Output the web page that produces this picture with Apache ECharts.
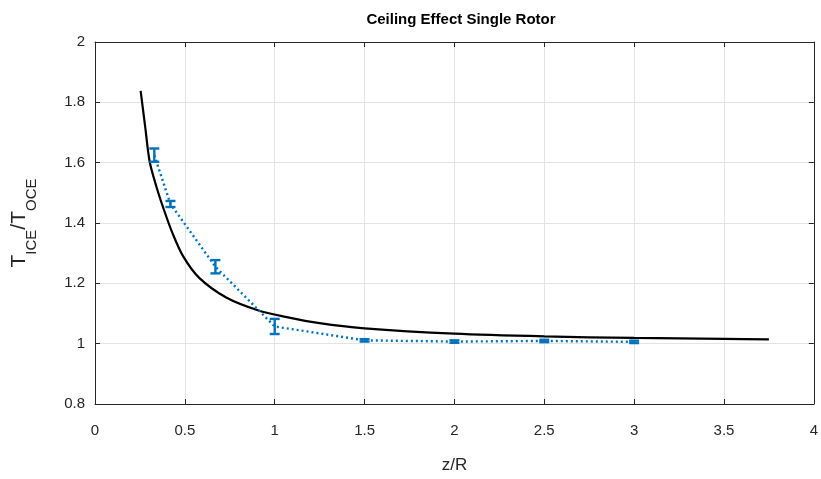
<!DOCTYPE html>
<html>
<head>
<meta charset="utf-8">
<script src="https://cdn.jsdelivr.net/npm/echarts@6/dist/echarts.min.js"></script>
<style>html,body{margin:0;padding:0;background:#fff;}#c{width:821px;height:479px;}</style>
</head>
<body>
<div id="c"></div>
<script>
// Measured data (blue, with error bars)
var measX = [0.33, 0.42, 0.67, 1.0, 1.5, 2.0, 2.5, 3.0];
var measY = [1.625, 1.463, 1.255, 1.057, 1.011, 1.007, 1.009, 1.006];
var measErr = [0.022, 0.010, 0.022, 0.025, 0.004, 0.004, 0.004, 0.004];
// Theory curve (black)
var curveX = [0.254, 0.28, 0.304, 0.341, 0.38, 0.43, 0.49, 0.58, 0.73, 0.91, 1.06, 1.25, 1.5, 2.0, 2.5, 3.0, 3.5, 3.75];
var curveY = [1.838, 1.715, 1.604, 1.522, 1.45, 1.368, 1.29, 1.218, 1.153, 1.110, 1.089, 1.068, 1.051, 1.033, 1.024, 1.019, 1.016, 1.014];
var xTicks = [0, 0.5, 1, 1.5, 2, 2.5, 3, 3.5, 4];
var yTicks = [0.8, 1, 1.2, 1.4, 1.6, 1.8, 2];

var chart = echarts.init(document.getElementById('c'));
var labelColor = '#262626';
var axisCommon = {
  axisLine: {show: true, onZero: false, lineStyle: {color: '#262626', width: 1}},
  axisTick: {show: true, inside: true, length: 5, lineStyle: {color: '#262626'}}
};
chart.setOption({
  animation: false,
  title: {
    text: 'Ceiling Effect Single Rotor',
    left: 456, top: 7, textAlign: 'center',
    textStyle: {fontFamily: 'Arial, Liberation Sans', fontSize: 15, fontWeight: 'bold', color: '#000'}
  },
  grid: {left: 95, right: 3, top: 42, bottom: 74},
  xAxis: [
    Object.assign({
      type: 'value', min: 0, max: 4, interval: 0.5, position: 'bottom',
      name: 'z/R', nameLocation: 'middle', nameGap: 53,
      nameTextStyle: {fontFamily: 'Arial, Liberation Sans', fontSize: 17, color: labelColor},
      axisLabel: {fontFamily: 'Arial, Liberation Sans', fontSize: 15, color: labelColor, margin: 19,
        formatter: function(v){ return xTicks.indexOf(v) >= 0 ? String(v) : ''; }},
      splitLine: {show: true, lineStyle: {color: '#e3e3e3', width: 1}}
    }, axisCommon),
    Object.assign({
      type: 'value', min: 0, max: 4, interval: 0.5, position: 'top',
      axisLabel: {show: false}, splitLine: {show: false}
    }, axisCommon)
  ],
  yAxis: [
    Object.assign({
      type: 'value', min: 0.8, max: 2, interval: 0.2, position: 'left',
      name: '{t|T}{sub|ICE}{t|/T}{sub|OCE}', nameLocation: 'middle', nameGap: 56,
      nameTextStyle: {fontFamily: 'Arial, Liberation Sans', fontSize: 21, color: labelColor,
        rich: {
          t: {fontFamily: 'Arial, Liberation Sans', fontSize: 21, color: labelColor, lineHeight: 30, verticalAlign: 'top'},
          sub: {fontFamily: 'Arial, Liberation Sans', fontSize: 15, color: labelColor, lineHeight: 14, verticalAlign: 'bottom'}
        }},
      axisLabel: {fontFamily: 'Arial, Liberation Sans', fontSize: 15, color: labelColor, margin: 10,
        formatter: function(v){ var r = Math.round(v*10)/10; return String(r); }},
      splitLine: {show: true, lineStyle: {color: '#e3e3e3', width: 1}}
    }, axisCommon),
    Object.assign({
      type: 'value', min: 0.8, max: 2, interval: 0.2, position: 'right',
      axisLabel: {show: false}, splitLine: {show: false}
    }, axisCommon)
  ],
  series: [
    {
      type: 'line', name: 'theory', xAxisIndex: 0, yAxisIndex: 0,
      data: curveX.map(function(x, i){ return [x, curveY[i]]; }),
      smooth: 0.3, showSymbol: false, symbol: 'none',
      lineStyle: {color: '#000', width: 2.2}, z: 3
    },
    {
      type: 'line', name: 'meas', xAxisIndex: 0, yAxisIndex: 0,
      data: measX.map(function(x, i){ return [x, measY[i]]; }),
      showSymbol: false, symbol: 'none',
      lineStyle: {color: '#0072BD', width: 2.4, type: [2, 3]}, z: 4
    },
    {
      type: 'custom', name: 'err', xAxisIndex: 0, yAxisIndex: 0,
      data: measX.map(function(x, i){ return [x, measY[i] - measErr[i], measY[i] + measErr[i]]; }),
      renderItem: function(params, api) {
        var lo = api.coord([api.value(0), api.value(1)]);
        var hi = api.coord([api.value(0), api.value(2)]);
        var hw = 5;
        var st = {stroke: '#0072BD', lineWidth: 2.4};
        return {type: 'group', children: [
          {type: 'line', shape: {x1: lo[0], y1: lo[1], x2: hi[0], y2: hi[1]}, style: st},
          {type: 'line', shape: {x1: lo[0]-hw, y1: lo[1], x2: lo[0]+hw, y2: lo[1]}, style: st},
          {type: 'line', shape: {x1: hi[0]-hw, y1: hi[1], x2: hi[0]+hw, y2: hi[1]}, style: st}
        ]};
      },
      encode: {x: 0, y: [1, 2]}, z: 5
    }
  ]
});
</script>
</body>
</html>
